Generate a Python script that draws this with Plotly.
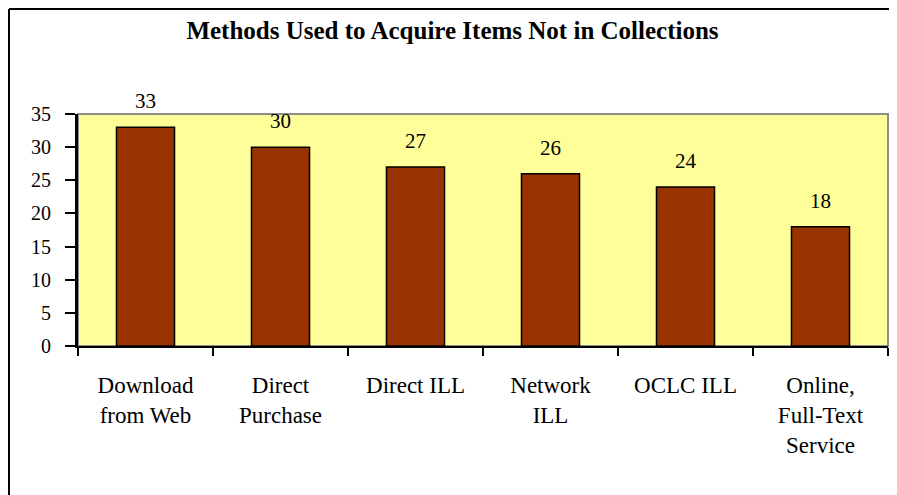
import plotly.graph_objects as go

categories = ["Download<br>from Web", "Direct<br>Purchase", "Direct ILL",
              "Network<br>ILL", "OCLC ILL", "Online,<br>Full-Text<br>Service"]
values = [33, 30, 27, 26, 24, 18]
y_ticks = [0, 5, 10, 15, 20, 25, 30, 35]
title_text = "Methods Used to Acquire Items Not in Collections"

# page body has an 8px margin; figure is sized to fit the 897x495 window
W, H = 889, 487
ML, MR, MT, MB = 70, 9, 106, 149
PW = W - ML - MR
PH = H - MT - MB

FONT = "Liberation Serif, Times New Roman, serif"

fig = go.Figure()
fig.add_trace(go.Bar(
    x=categories, y=values,
    marker=dict(color="#993300", line=dict(color="black", width=1.5)),
    width=0.43,
    hoverinfo="x+y",
))

for c, v in zip(categories, values):
    fig.add_annotation(x=c, y=v, text=str(v), showarrow=False,
                       yanchor="middle", yshift=26,
                       font=dict(family=FONT, size=21, color="black"))

# plot-area frame (gray top/right)
fig.add_shape(type="rect", xref="paper", yref="paper", x0=0, x1=1, y0=0, y1=1,
              line=dict(color="#8c8c8c", width=2), layer="below")
# outer chart border (top and left visible)
bx = (1 - ML) / PW
by = 1 + (MT - 1) / PH
fig.add_shape(type="line", xref="paper", yref="paper", x0=bx, x1=bx, y0=-2, y1=by,
              line=dict(color="black", width=2))
fig.add_shape(type="line", xref="paper", yref="paper", x0=bx, x1=1.2, y0=by, y1=by,
              line=dict(color="black", width=2))

fig.update_layout(
    width=W, height=H,
    margin=dict(l=ML, r=MR, t=MT, b=MB),
    paper_bgcolor="white",
    plot_bgcolor="#FFFF99",
    showlegend=False,
    title=dict(text="<b>" + title_text + "</b>", x=0.5, xref="container", xanchor="center",
               y=1 - 22 / H, yanchor="middle",
               font=dict(family=FONT, size=25, color="black")),
    font=dict(family=FONT, color="black"),
)
fig.update_xaxes(
    showline=True, linecolor="black", linewidth=1.5,
    ticks="outside", tickson="boundaries", ticklen=8, tickcolor="black", tickwidth=1.5,
    ticklabelstandoff=18,
    tickfont=dict(family=FONT, size=23, color="black"),
    showgrid=False, zeroline=False,
)
fig.update_yaxes(
    range=[0, 35], tickvals=y_ticks,
    showline=True, linecolor="black", linewidth=3,
    ticks="outside", ticklen=10, tickcolor="black", tickwidth=2,
    ticklabelstandoff=10,
    tickfont=dict(family=FONT, size=20, color="black"),
    showgrid=False, zeroline=False,
)

fig.write_html("out.html")
